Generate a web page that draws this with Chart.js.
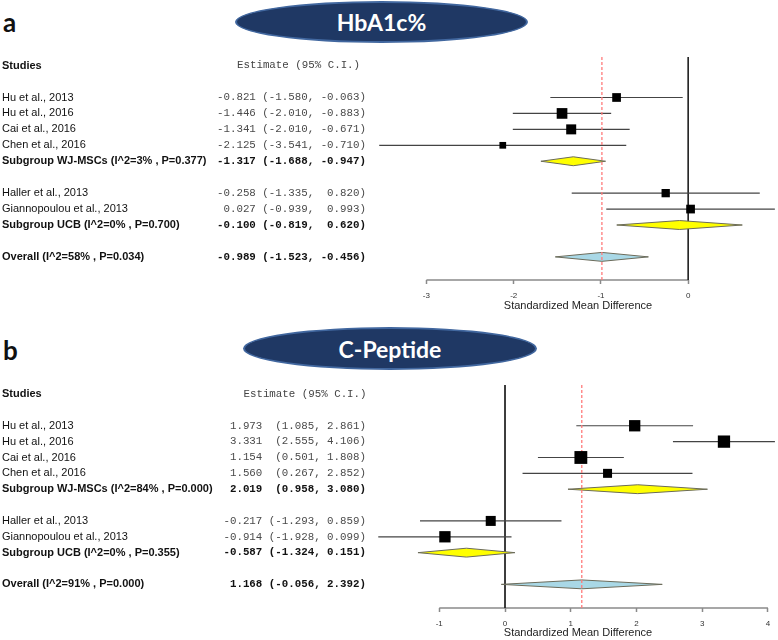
<!DOCTYPE html>
<html><head><meta charset="utf-8">
<script src="https://cdn.jsdelivr.net/npm/chart.js@4.4.1/dist/chart.umd.min.js"></script>
<style>
html,body{margin:0;padding:0;background:#fff;}
body{width:778px;height:640px;position:relative;overflow:hidden;}
canvas{position:absolute;left:0;}
.panel{position:absolute;left:3px;font-family:Lato,'Open Sans',sans-serif;font-weight:700;font-size:26px;color:#111;line-height:26px;height:26px;}
.pill{position:absolute;background:#1f3864;border:2px solid #41679f;border-radius:50%;box-sizing:border-box;color:#fff;font-family:Lato,'Open Sans',sans-serif;font-weight:700;font-size:23px;display:flex;align-items:center;justify-content:center;}
</style></head>
<body>
<div class="panel" style="top:9px">a</div>
<div class="pill" style="left:235px;top:1px;width:293px;height:42px">HbA1c%</div>
<canvas id="cA" width="778" height="313" style="top:0"></canvas>
<div class="panel" style="top:337px">b</div>
<div class="pill" style="left:243px;top:327px;width:294px;height:43px">C-Peptide</div>
<canvas id="cB" width="778" height="327" style="top:313px"></canvas>
<script>
// ---------- shared layout of rows ----------
const studyLabels = ["Hu et al., 2013", "Hu et al., 2016", "Cai et al., 2016", "Chen et al., 2016", "Haller et al., 2013", "Giannopoulou et al., 2013"];
const studyRows = [2, 3, 4, 5, 8, 9];
const summaryRows = [6, 10, 12];
const summaryKinds = ["subgroup", "subgroup", "overall"];

// ---------- Panel a: HbA1c% ----------
const hbaStudyEst = [-0.821, -1.446, -1.341, -2.125, -0.258, 0.027];
const hbaStudyLo  = [-1.580, -2.010, -2.010, -3.541, -1.335, -0.939];
const hbaStudyHi  = [-0.063, -0.883, -0.671, -0.710, 0.820, 0.993];
const hbaWeights  = [76, 114, 100, 45, 69, 76];
const hbaSummaryLabels = ["Subgroup WJ-MSCs (I^2=3% , P=0.377)", "Subgroup UCB (I^2=0% , P=0.700)", "Overall (I^2=58% , P=0.034)"];
const hbaSummaryEst = [-1.317, -0.100, -0.989];
const hbaSummaryLo  = [-1.688, -0.819, -1.523];
const hbaSummaryHi  = [-0.947, 0.620, -0.456];
const hbaTicks = [-3, -2, -1, 0];

// ---------- Panel b: C-Peptide ----------
const cpStudyEst = [1.973, 3.331, 1.154, 1.560, -0.217, -0.914];
const cpStudyLo  = [1.085, 2.555, 0.501, 0.267, -1.293, -1.928];
const cpStudyHi  = [2.861, 4.106, 1.808, 2.852, 0.859, 0.099];
const cpWeights  = [128, 151, 165, 81, 100, 128];
const cpSummaryLabels = ["Subgroup WJ-MSCs (I^2=84% , P=0.000)", "Subgroup UCB (I^2=0% , P=0.355)", "Overall (I^2=91% , P=0.000)"];
const cpSummaryEst = [2.019, -0.587, 1.168];
const cpSummaryLo  = [0.958, -1.324, -0.056];
const cpSummaryHi  = [3.080, 0.151, 2.392];
const cpTicks = [-1, 0, 1, 2, 3, 4];

// ---------- helpers ----------
function pad(s, w) { while (s.length < w) s = " " + s; return s; }
function estStrings(est, lo, hi) {
  const f = v => v.toFixed(3);
  const we = Math.max(...est.map(v => f(v).length));
  const wl = Math.max(...lo.map(v => f(v).length)) + 1;
  const wh = Math.max(...hi.map(v => f(v).length));
  return est.map((e, i) => pad(f(e), we) + " " + pad("(" + f(lo[i]), wl) + ", " + pad(f(hi[i]), wh) + ")");
}

const tablePlugin = {
  id: 'table',
  afterDraw(chart) {
    const o = chart.options.plugins.table;
    const ctx = chart.ctx, ys = chart.scales.y;
    ctx.save();
    ctx.textBaseline = 'middle';
    const rightX = 366;
    const mono = '10.8px "Liberation Mono", "Courier New", monospace';
    ctx.fillStyle = '#111';
    ctx.font = 'bold 11px "Liberation Sans", Arial, sans-serif';
    ctx.textAlign = 'left';
    ctx.fillText('Studies', 2, ys.getPixelForValue(0));
    ctx.font = mono;
    const dataW = ctx.measureText(o.estText[0]).width;
    ctx.fillStyle = '#444';
    ctx.fillText('Estimate (95% C.I.)', rightX - dataW + 20, ys.getPixelForValue(0));
    o.rows.forEach((r, i) => {
      const y = ys.getPixelForValue(r);
      const bold = o.bold[i];
      ctx.textAlign = 'left';
      ctx.fillStyle = '#111';
      ctx.font = (bold ? 'bold ' : '') + '11px "Liberation Sans", Arial, sans-serif';
      ctx.fillText(o.labels[i], 2, y);
      ctx.textAlign = 'right';
      ctx.fillStyle = bold ? '#111' : '#4a4a4a';
      ctx.font = (bold ? 'bold ' : '') + mono;
      ctx.fillText(o.estText[i], rightX, y);
    });
    ctx.restore();
  }
};

function buildChart(id, p) {
  const yMin = p.yMin, yMax = p.yMax, h = 0.28;
  const datasets = [];
  datasets.push({
    type: 'scatter', order: 0,
    data: p.est.map((e, i) => ({x: e, y: studyRows[i]})),
    pointStyle: 'rect',
    pointRadius: p.weights.map(w => Math.sqrt(w) / Math.SQRT2),
    backgroundColor: '#000', borderColor: '#000', borderWidth: 0
  });
  const ov = p.sEst[p.sEst.length - 1];
  datasets.push({
    type: 'line', order: 1,
    data: [{x: ov, y: yMin}, {x: ov, y: yMax}],
    borderColor: '#ff7b7b', borderWidth: 1.3, borderDash: [3, 2], pointRadius: 0, fill: false, clip: false
  });
  p.sEst.forEach((e, i) => {
    const r = summaryRows[i];
    datasets.push({
      type: 'line', order: 2,
      data: [{x: p.sLo[i], y: r}, {x: e, y: r - h}, {x: p.sHi[i], y: r}, {x: e, y: r + h}, {x: p.sLo[i], y: r}],
      borderColor: '#6b6b5a', borderWidth: 1,
      backgroundColor: summaryKinds[i] === 'overall' ? '#a9d8e6' : '#ffff00',
      fill: 'shape', pointRadius: 0, tension: 0
    });
  });
  p.est.forEach((e, i) => {
    datasets.push({
      type: 'line', order: 3,
      data: [{x: p.lo[i], y: studyRows[i]}, {x: p.hi[i], y: studyRows[i]}],
      borderColor: '#444', borderWidth: 1.2, pointRadius: 0, fill: false
    });
  });
  datasets.push({
    type: 'line', order: 4,
    data: [{x: 0, y: yMin}, {x: 0, y: yMax}],
    borderColor: '#222', borderWidth: 1, pointRadius: 0, fill: false, clip: false
  });
  datasets.push({
    type: 'line', order: 5,
    data: [{x: p.ticks[0], y: yMax}, {x: p.ticks[p.ticks.length - 1], y: yMax}],
    borderColor: '#8a8a8a', borderWidth: 1.6, pointRadius: 0, fill: false, clip: false
  });

  const labels = studyLabels.concat(p.sLabels);
  const rows = studyRows.concat(summaryRows);
  const estText = estStrings(p.est.concat(p.sEst), p.lo.concat(p.sLo), p.hi.concat(p.sHi));
  const bold = studyRows.map(() => false).concat(summaryRows.map(() => true));

  return new Chart(document.getElementById(id), {
    type: 'scatter',
    data: {datasets},
    plugins: [tablePlugin],
    options: {
      responsive: false, animation: false, events: [],
      layout: {autoPadding: false, padding: {left: 378, right: 0, top: p.top, bottom: 0}},
      plugins: {
        legend: {display: false}, tooltip: {enabled: false},
        table: {labels, rows, estText, bold}
      },
      scales: {
        y: {type: 'linear', display: false, reverse: true, min: yMin, max: yMax},
        x: {
          type: 'linear', min: p.xMin, max: p.xMax,
          afterBuildTicks: s => { s.ticks = p.ticks.map(v => ({value: v})); },
          afterFit: s => { s.height = p.axisH; },
          border: {display: false},
          grid: {display: true, drawOnChartArea: false, drawTicks: true, tickLength: 4, tickColor: '#8a8a8a', tickWidth: 1.5},
          ticks: {font: {family: '"Liberation Sans", Arial, sans-serif', size: 8}, color: '#333', padding: 7, maxRotation: 0, autoSkip: false},
          title: {display: true, text: 'Standardized Mean Difference', font: {family: '"Liberation Sans", Arial, sans-serif', size: 11}, color: '#222', padding: 0}
        }
      }
    }
  });
}

buildChart('cA', {
  est: hbaStudyEst, lo: hbaStudyLo, hi: hbaStudyHi, weights: hbaWeights,
  sLabels: hbaSummaryLabels, sEst: hbaSummaryEst, sLo: hbaSummaryLo, sHi: hbaSummaryHi,
  ticks: hbaTicks, xMin: -3.555, xMax: 1.029, yMin: -0.54, yMax: 13.45, top: 57, axisH: 33
});
buildChart('cB', {
  est: cpStudyEst, lo: cpStudyLo, hi: cpStudyHi, weights: cpWeights,
  sLabels: cpSummaryLabels, sEst: cpSummaryEst, sLo: cpSummaryLo, sHi: cpSummaryHi,
  ticks: cpTicks, xMin: -1.932, xMax: 4.153, yMin: -0.57, yMax: 13.49, top: 72, axisH: 32
});
</script>
</body></html>
